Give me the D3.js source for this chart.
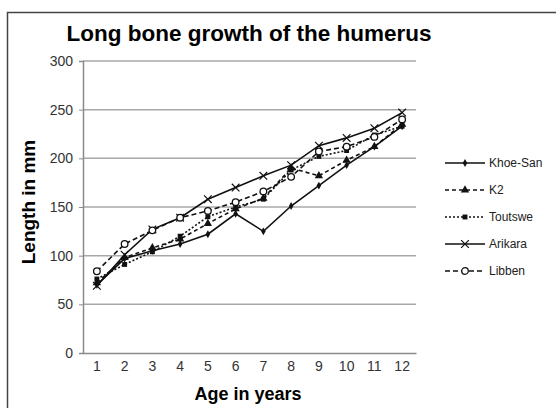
<!DOCTYPE html>
<html>
<head>
<meta charset="utf-8">
<script src="https://cdn.jsdelivr.net/npm/d3@7"></script>
<style>
  body { margin: 0; background: #fff; }
  text { font-family: "Liberation Sans", Arial, sans-serif; }
</style>
</head>
<body>
<div id="chart"></div>
<script>
// data
var ages = ["1", "2", "3", "4", "5", "6", "7", "8", "9", "10", "11", "12"];
var yTicks = [0, 50, 100, 150, 200, 250, 300];
var khoeSan = [70, 97, 105, 112, 122, 143, 125, 151, 172, 193, 212, 233];
var k2 = [72, 98, 108, 117, 133, 148, 159, 190, 182, 198, 212, 235];
var toutswe = [76, 91, 104, 120, 140, 150, 158, 188, 202, 208, 224, 233];
var arikara = [69, 101, 127, 139, 158, 170, 182, 193, 213, 221, 231, 247];
var libben = [84, 112, 126, 139, 146, 155, 166, 181, 207, 212, 222, 240];

var seriesNames = ["Khoe-San", "K2", "Toutswe", "Arikara", "Libben"];
var seriesValues = [khoeSan, k2, toutswe, arikara, libben];
var dashes = [null, "4,3", "2,2", null, "5,3"];
var markers = ["diamond", "triangle", "square", "cross", "circle"];

var W = 556, H = 408;
var margin = { top: 61, right: 140, bottom: 55, left: 83 };
var width = 416 - margin.left, height = 353 - margin.top;

var root = d3.select("#chart").append("svg").attr("width", W).attr("height", H);

// frame
root.append("rect")
  .attr("x", 7.5).attr("y", 12.5)
  .attr("width", W).attr("height", H)
  .attr("fill", "none").attr("stroke", "#444").attr("stroke-width", 1.5);

// title
root.append("text")
  .attr("x", 249).attr("y", 41)
  .attr("text-anchor", "middle")
  .style("font-size", "22.5px").style("font-weight", "bold")
  .text("Long bone growth of the humerus");

var svg = root.append("g")
  .attr("transform", "translate(" + margin.left + "," + margin.top + ")");

var x = d3.scaleBand().domain(ages).range([0, width]);
var y = d3.scaleLinear().domain([0, 300]).range([height, 0]);

// gridlines
svg.append("g")
  .selectAll("line")
  .data(yTicks.slice(1))
  .enter()
  .append("line")
  .attr("x1", 0).attr("x2", width)
  .attr("y1", function (d) { return y(d); })
  .attr("y2", function (d) { return y(d); })
  .attr("stroke", "#a8a8a8").attr("stroke-width", 1.5);

// axes
var yAxis = svg.append("g")
  .call(d3.axisLeft(y).tickValues(yTicks).tickSize(4).tickPadding(6));
yAxis.select(".domain").attr("stroke", "#8a8a8a").attr("stroke-width", 1.5);
yAxis.selectAll(".tick line").attr("stroke", "#8a8a8a");
yAxis.selectAll("text").style("font-size", "14px").attr("fill", "#333")
  .style("font-family", "Liberation Sans, Arial, sans-serif");

var xAxis = svg.append("g")
  .attr("transform", "translate(0," + height + ")")
  .call(d3.axisBottom(x).tickSize(0).tickPadding(8));
xAxis.select(".domain").attr("stroke", "#8a8a8a").attr("stroke-width", 1.5);
xAxis.selectAll("text").style("font-size", "14px").attr("fill", "#333")
  .style("font-family", "Liberation Sans, Arial, sans-serif");

// axis labels
root.append("text")
  .attr("x", 248).attr("y", 400)
  .attr("text-anchor", "middle")
  .style("font-size", "18px").style("font-weight", "bold")
  .text("Age in years");

root.append("text")
  .attr("transform", "translate(35,202) rotate(-90)")
  .attr("text-anchor", "middle")
  .style("font-size", "19px").style("font-weight", "bold")
  .text("Length in mm");

// markers
function drawMarker(g, type, cx, cy) {
  if (type === "diamond") {
    g.append("path").attr("d", d3.symbol().type(d3.symbolDiamond).size(18)())
      .attr("transform", "translate(" + cx + "," + cy + ")").attr("fill", "#111");
  } else if (type === "triangle") {
    g.append("path").attr("d", d3.symbol().type(d3.symbolTriangle).size(30)())
      .attr("transform", "translate(" + cx + "," + cy + ")").attr("fill", "#111");
  } else if (type === "square") {
    g.append("path").attr("d", d3.symbol().type(d3.symbolSquare).size(24)())
      .attr("transform", "translate(" + cx + "," + cy + ")").attr("fill", "#111");
  } else if (type === "cross") {
    g.append("path").attr("d", d3.symbol().type(d3.symbolX).size(40)())
      .attr("transform", "translate(" + cx + "," + cy + ")")
      .attr("fill", "none").attr("stroke", "#111").attr("stroke-width", 1.2);
  } else {
    g.append("circle").attr("cx", cx).attr("cy", cy).attr("r", 3.3)
      .attr("fill", "#fff").attr("stroke", "#111").attr("stroke-width", 1.3);
  }
}

var line = d3.line()
  .x(function (d, i) { return x(ages[i]) + x.bandwidth() / 2; })
  .y(function (d) { return y(d); });

seriesValues.forEach(function (vals, s) {
  var g = svg.append("g");
  g.append("path")
    .datum(vals)
    .attr("d", line)
    .attr("fill", "none")
    .attr("stroke", "#111")
    .attr("stroke-width", 1.6)
    .attr("stroke-dasharray", dashes[s]);
  vals.forEach(function (v, i) {
    drawMarker(g, markers[s], x(ages[i]) + x.bandwidth() / 2, y(v));
  });
});

// legend
var legend = root.selectAll(".legend")
  .data(seriesNames)
  .enter()
  .append("g")
  .attr("class", "legend")
  .attr("transform", function (d, i) {
    return "translate(445," + (163 + i * 27) + ")";
  });

legend.append("line")
  .attr("x1", 0).attr("x2", 40)
  .attr("stroke", "#111").attr("stroke-width", 1.6)
  .attr("stroke-dasharray", function (d, i) { return dashes[i]; });

legend.each(function (d, i) {
  drawMarker(d3.select(this), markers[i], 20, 0);
});

legend.append("text")
  .attr("x", 44).attr("y", 0).attr("dy", "0.35em")
  .style("font-size", "12px").attr("fill", "#222")
  .text(function (d) { return d; });
</script>
</body>
</html>
